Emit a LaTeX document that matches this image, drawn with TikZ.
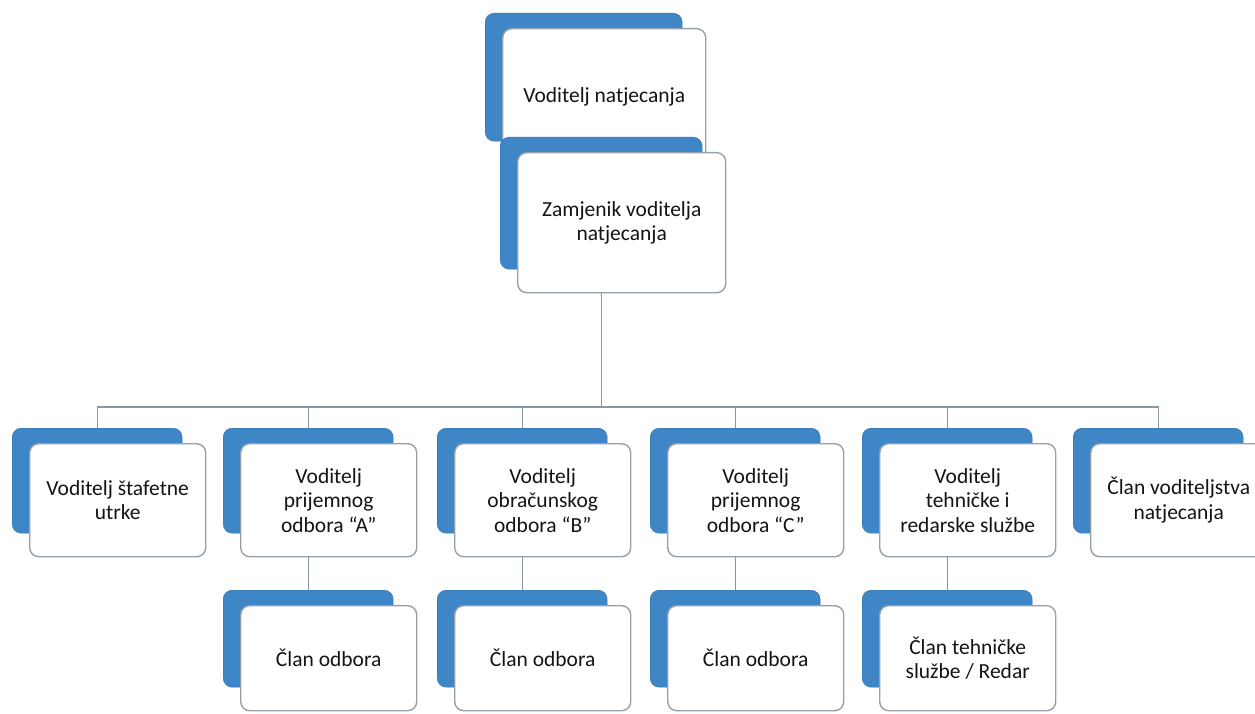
\documentclass[tikz,border=0pt]{standalone}
\usepackage{fontspec}
\setmainfont{Carlito}
\definecolor{boxblue}{RGB}{62,134,198}
\definecolor{boxedge}{RGB}{150,160,170}
\definecolor{linecol}{RGB}{135,150,165}
\definecolor{txtcol}{RGB}{20,20,20}
\tikzset{
  backbox/.style={rectangle, rounded corners=9pt, fill=boxblue, draw=boxblue!85!black, line width=0.4pt, anchor=north west, inner sep=0pt},
  frontbox/.style={rectangle, rounded corners=9pt, fill=white, draw=boxedge, line width=1.4pt, anchor=north west, align=center, inner sep=2pt, text=txtcol, font=\fontsize{21.5}{24.5}\selectfont},
  conn/.style={draw=linecol, line width=1.3pt}
}
% name, x, y, w, h, text
\newcommand{\orgbox}[6]{%
  \node[backbox, minimum width=#4pt, minimum height=#5pt] (#1b) at (#2,#3) {};
  \node[frontbox, minimum width=#4pt+6pt, minimum height=#5pt+8pt] (#1) at (#2+17,#3+15) {#6};
}
\begin{document}
\begin{tikzpicture}[x=1pt,y=-1pt]
\useasboundingbox (0,0) rectangle (1255,714);
\coordinate (bus) at (0,407);
% top
\orgbox{top}{485}{13}{197}{128}{Voditelj natjecanja}
\orgbox{zam}{500}{137}{202}{132}{Zamjenik voditelja\\natjecanja}
% row 1
\orgbox{ca}{12}{428}{170}{105}{Voditelj štafetne\\utrke}
\orgbox{cb}{223}{428}{170}{105}{Voditelj\\prijemnog\\odbora “A”}
\orgbox{cc}{437}{428}{170}{105}{Voditelj\\obračunskog\\odbora “B”}
\orgbox{cd}{650}{428}{170}{105}{Voditelj\\prijemnog\\odbora “C”}
\orgbox{ce}{862}{428}{170}{105}{Voditelj\\tehničke i\\redarske službe}
\orgbox{cf}{1073}{428}{170}{105}{Član voditeljstva\\natjecanja}
% row 2
\orgbox{db}{223}{590}{170}{97}{Član odbora}
\orgbox{dc}{437}{590}{170}{97}{Član odbora}
\orgbox{dd}{650}{590}{170}{97}{Član odbora}
\orgbox{de}{862}{590}{170}{97}{Član tehničke\\službe / Redar}
% connectors
\draw[conn] (zam.south -| zamb.north) -- (zamb.north |- bus);
\draw[conn] (cab.north) -- (cab.north |- bus) -- (cfb.north |- bus) -- (cfb.north);
\foreach \n in {cb,cc,cd,ce}{
  \draw[conn] (\n b.north |- bus) -- (\n b.north);
}
\draw[conn] (cb.south -| cbb.north) -- (dbb.north);
\draw[conn] (cc.south -| ccb.north) -- (dcb.north);
\draw[conn] (cd.south -| cdb.north) -- (ddb.north);
\draw[conn] (ce.south -| ceb.north) -- (deb.north);
\end{tikzpicture}
\end{document}
